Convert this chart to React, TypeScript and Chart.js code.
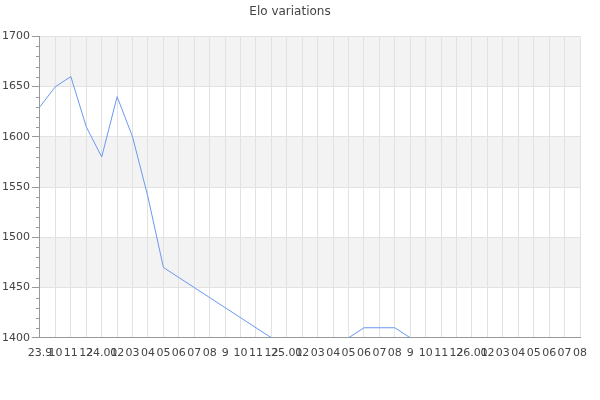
import React, { useEffect, useRef } from "react";
import { Chart, registerables } from "chart.js";

Chart.register(...registerables);

const labels: string[] = [
  "23.9", "10", "11", "12", "24.01", "02", "03", "04", "05", "06", "07", "08",
  "9", "10", "11", "12", "25.01", "02", "03", "04", "05", "06", "07", "08",
  "9", "10", "11", "12", "26.01", "02", "03", "04", "05", "06", "07", "08",
];

const elo: number[] = [
  1630, 1650, 1660, 1610, 1580, 1640, 1600, 1540, 1470, 1460, 1450, 1440,
  1430, 1420, 1410, 1400, 1390, 1380, 1380, 1390, 1400, 1410, 1410, 1410,
  1400, 1390, 1380, 1380, 1380, 1380, 1380, 1380, 1380, 1380, 1380, 1380,
];

const yMin = 1400;
const yMax = 1700;
const majorStep = 50;
const minorStep = 10;

const FONT = "'DejaVu Sans', sans-serif";

const bandsPlugin = {
  id: "bands",
  beforeDraw(chart: any) {
    const { ctx, chartArea } = chart;
    const y = chart.scales.y;
    ctx.save();
    ctx.fillStyle = "#f3f3f3";
    for (let v = yMax; v > yMin; v -= majorStep * 2) {
      const top = y.getPixelForValue(v);
      const bottom = y.getPixelForValue(v - majorStep);
      ctx.fillRect(chartArea.left, top, chartArea.right - chartArea.left, bottom - top);
    }
    ctx.restore();
  },
};

const minorTicksPlugin = {
  id: "minorTicks",
  afterDraw(chart: any) {
    const { ctx, chartArea } = chart;
    const y = chart.scales.y;
    ctx.save();
    ctx.strokeStyle = "#999";
    ctx.lineWidth = 1;
    for (let v = yMin + minorStep; v < yMax; v += minorStep) {
      if (v % majorStep === 0) continue;
      const py = Math.round(y.getPixelForValue(v)) + 0.5;
      ctx.beginPath();
      ctx.moveTo(chartArea.left - 4, py);
      ctx.lineTo(chartArea.left, py);
      ctx.stroke();
    }
    ctx.restore();
  },
};

export default function App() {
  const ref = useRef<HTMLCanvasElement | null>(null);

  useEffect(() => {
    if (!ref.current) return;
    const chart = new Chart(ref.current, {
      type: "line",
      data: {
        labels,
        datasets: [
          {
            label: "Elo",
            data: elo,
            borderColor: "#6a98f0",
            borderWidth: 1,
            pointRadius: 0,
            tension: 0,
            fill: false,
          },
        ],
      },
      options: {
        animation: false,
        responsive: false,
        devicePixelRatio: 1,
        layout: { padding: { left: 0, right: 20, bottom: 31, top: 0 } },
        plugins: {
          legend: { display: false },
          tooltip: { enabled: false },
          title: {
            display: true,
            text: "Elo variations",
            color: "#444",
            font: { family: FONT, size: 12, weight: "normal" },
            padding: { top: 5, bottom: 17 },
          },
        },
        scales: {
          x: {
            grid: { color: "#e2e2e2", drawTicks: false },
            border: { color: "#999" },
            ticks: {
              autoSkip: false,
              maxRotation: 0,
              minRotation: 0,
              color: "#444",
              padding: 9,
              font: { family: FONT, size: 11 },
            },
          },
          y: {
            min: yMin,
            max: yMax,
            grid: { color: "#e2e2e2", tickColor: "#999", tickLength: 8 },
            border: { color: "#999" },
            ticks: {
              stepSize: majorStep,
              color: "#444",
              padding: 2,
              font: { family: FONT, size: 11 },
              callback: (v: any) => String(v),
            },
          },
        },
      },
      plugins: [bandsPlugin, minorTicksPlugin],
    });
    return () => chart.destroy();
  }, []);

  return (
    <div style={{ position: "fixed", left: 0, top: 0, width: 600, height: 400, background: "#fff" }}>
      <canvas ref={ref} width={600} height={400} style={{ width: 600, height: 400 }} />
    </div>
  );
}
